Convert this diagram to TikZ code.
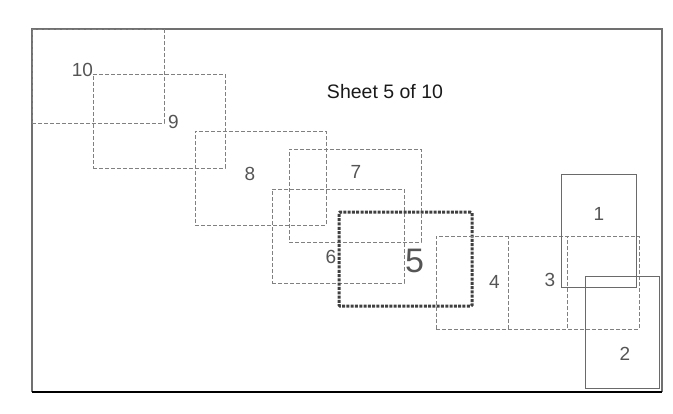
\documentclass[tikz,border=0pt]{standalone}
\usepackage{fontspec}
\setmainfont{Liberation Sans}
\definecolor{framegray}{HTML}{707070}
\definecolor{sheetgray}{HTML}{808080}
\definecolor{cutgray}{HTML}{6A6A6A}
\definecolor{labelgray}{HTML}{555555}
\definecolor{currentgray}{HTML}{404040}
\tikzset{
  sheet/.style={draw=sheetgray, line width=0.9pt, dash pattern=on 4pt off 2pt,
    minimum width=132pt, minimum height=94pt, inner sep=0pt, outer sep=0pt, anchor=north west},
  cutsheet/.style={draw=cutgray, line width=0.9pt,
    minimum width=75pt, minimum height=113pt, inner sep=0pt, outer sep=0pt, anchor=north west},
  current/.style={draw=currentgray, line width=3pt, dash pattern=on 3pt off 1.3pt, rounded corners=1pt,
    minimum width=133pt, minimum height=94pt, inner sep=0pt, outer sep=0pt, anchor=north west},
  num/.style={text=labelgray, font=\fontsize{19}{19}\selectfont, inner sep=0pt}
}
\begin{document}
\begin{tikzpicture}[x=1pt,y=-1pt]
				\useasboundingbox (0,0) rectangle (673,413);
				% page frame
				\draw[framegray, line width=1.4pt] (32,392) -- (32,29) -- (662,29) -- (662,392);
				\draw[black, line width=1.2pt] (32,392) -- (662,392);
				\node[font=\fontsize{19.5}{19.5}\selectfont, text=black!90, inner sep=0pt] (title) at (385,91.5) {Sheet 5 of 10};
				% sheets
				\node[sheet] (s10) at (32,29) {};
				\node[sheet] (s9) at (93,74) {};
				\node[sheet, minimum width=131pt] (s8) at (195,131) {};
				\node[sheet, minimum height=93pt] (s7) at (289,149) {};
				\node[sheet] (s6) at (272,189) {};
				\node[current] (s5) at (339,212) {};
				\node[sheet, minimum width=131pt, minimum height=93pt] (s4) at (436,236) {};
				\node[sheet, minimum width=131pt, minimum height=93pt] (s3) at (508,236) {};
				\node[cutsheet] (s1) at (561,174) {};
				\node[cutsheet, minimum width=74pt, minimum height=112pt] (s2) at (585,276) {};
				% numbers
				\node[num] (n10) at (82.5,70) {10};
				\node[num] (n9) at (173.5,121.5) {9};
				\node[num] (n8) at (250,173.5) {8};
				\node[num] (n7) at (356,171.5) {7};
				\node[num] (n6) at (331,257) {6};
				\node[num, font=\fontsize{34}{34}\selectfont] (n5) at (414.5,261) {5};
				\node[num] (n4) at (494.5,281.5) {4};
				\node[num] (n3) at (550,279.5) {3};
				\node[num] (n1) at (599,213.5) {1};
				\node[num] (n2) at (625,353.5) {2};
\end{tikzpicture}
\end{document}
